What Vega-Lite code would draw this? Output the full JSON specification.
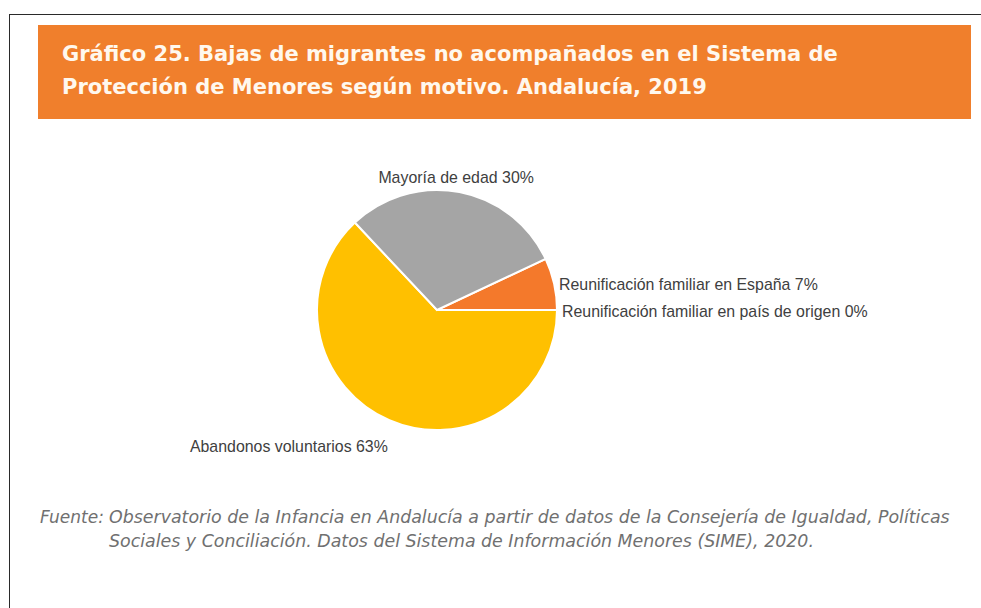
{
  "$schema": "https://vega.github.io/schema/vega-lite/v6.json",
  "padding": {"left": 9, "top": 14, "right": 0, "bottom": 0},
  "background": "#ffffff",
  "spacing": 0,
  "config": {"view": {"stroke": null}},
  "datasets": {
    "bajas": [
      {"motivo": "Reunificación familiar en España", "pct": 7, "order": 1, "label": "Reunificación familiar en España 7%"},
      {"motivo": "Reunificación familiar en país de origen", "pct": 0, "order": 2, "label": "Reunificación familiar en país de origen 0%"},
      {"motivo": "Abandonos voluntarios", "pct": 63, "order": 3, "label": "Abandonos voluntarios 63%"},
      {"motivo": "Mayoría de edad", "pct": 30, "order": 4, "label": "Mayoría de edad 30%"}
    ],
    "empty": []
  },
  "hconcat": [
    {
      "width": 1, "height": 594,
      "view": {"fill": "#2a2a2a", "stroke": null},
      "data": {"name": "empty"},
      "mark": "point"
    },
    {
      "spacing": 10,
      "vconcat": [
        {
          "width": 971, "height": 1,
          "view": {"fill": "#2a2a2a", "stroke": null},
          "data": {"name": "empty"},
          "mark": "point"
        },
        {
          "spacing": 0,
          "vconcat": [
            {
              "spacing": 0,
              "hconcat": [
                {"width": 28, "height": 94, "data": {"name": "empty"}, "mark": "point"},
                {
                  "width": 933, "height": 94,
                  "view": {"fill": "#F07F2C", "stroke": null},
                  "data": {"name": "empty"},
                  "mark": "point",
                  "title": {
                    "text": ["Gráfico 25. Bajas de migrantes no acompañados en el Sistema de", "Protección de Menores según motivo. Andalucía, 2019"],
                    "orient": "bottom",
                    "anchor": "start",
                    "frame": "group",
                    "offset": -58,
                    "dx": 24,
                    "baseline": "alphabetic",
                    "font": "DejaVu Sans",
                    "fontSize": 21,
                    "fontWeight": "bold",
                    "color": "#FFF8EE",
                    "lineHeight": 33
                  }
                }
              ]
            },
            {
              "spacing": 0,
              "hconcat": [
                {"width": 28, "height": 382, "data": {"name": "empty"}, "mark": "point"},
                {
                  "width": 798, "height": 382,
                  "data": {"name": "bajas"},
                  "encoding": {
                    "theta": {"field": "pct", "type": "quantitative", "stack": true, "scale": {"range": [1.131, 7.4142]}},
                    "order": {"field": "order", "type": "quantitative"}
                  },
                  "layer": [
                    {
                      "mark": {"type": "arc", "outerRadius": 120, "stroke": "#ffffff", "strokeWidth": 2},
                      "encoding": {
                        "color": {
                          "field": "motivo", "type": "nominal", "legend": null,
                          "scale": {
                            "domain": ["Reunificación familiar en España", "Reunificación familiar en país de origen", "Abandonos voluntarios", "Mayoría de edad"],
                            "range": ["#F4792B", "#5B9BD5", "#FFC000", "#A5A5A5"]
                          }
                        }
                      }
                    },
                    {
                      "mark": {"type": "text", "radius": 134, "dx": -6, "align": "center", "baseline": "middle", "font": "Liberation Sans", "fontSize": 15.9, "color": "#404040"},
                      "encoding": {
                        "text": {"condition": {"test": "datum.motivo === 'Mayoría de edad'", "field": "label", "type": "nominal"}, "value": ""}
                      }
                    },
                    {
                      "mark": {"type": "text", "radius": 125, "dy": 2, "align": "left", "baseline": "middle", "font": "Liberation Sans", "fontSize": 15.9, "color": "#404040"},
                      "encoding": {
                        "text": {"condition": {"test": "indexof(datum.motivo, 'Reunificación') === 0", "field": "label", "type": "nominal"}, "value": ""}
                      }
                    },
                    {
                      "mark": {"type": "text", "radius": 149, "dx": 10, "align": "right", "baseline": "middle", "font": "Liberation Sans", "fontSize": 15.9, "color": "#404040"},
                      "encoding": {
                        "text": {"condition": {"test": "datum.motivo === 'Abandonos voluntarios'", "field": "label", "type": "nominal"}, "value": ""}
                      }
                    }
                  ]
                }
              ]
            },
            {
              "spacing": 0,
              "hconcat": [
                {"width": 30, "height": 1, "data": {"name": "empty"}, "mark": "point"},
                {
                  "width": 69, "height": 1,
                  "data": {"name": "empty"},
                  "mark": "point",
                  "title": {
                    "text": "Fuente:",
                    "orient": "bottom", "anchor": "start", "frame": "group",
                    "offset": 21, "baseline": "alphabetic",
                    "font": "DejaVu Sans", "fontSize": 17, "fontStyle": "italic", "fontWeight": "normal",
                    "color": "#707070"
                  }
                },
                {
                  "width": 860, "height": 1,
                  "data": {"name": "empty"},
                  "mark": "point",
                  "title": {
                    "text": ["Observatorio de la Infancia en Andalucía a partir de datos de la Consejería de Igualdad, Políticas", "Sociales y Conciliación. Datos del Sistema de Información Menores (SIME), 2020."],
                    "orient": "bottom", "anchor": "start", "frame": "group",
                    "offset": 21, "baseline": "alphabetic", "lineHeight": 24,
                    "font": "DejaVu Sans", "fontSize": 17.4, "fontStyle": "italic", "fontWeight": "normal",
                    "color": "#707070"
                  }
                }
              ]
            }
          ]
        }
      ]
    }
  ]
}
